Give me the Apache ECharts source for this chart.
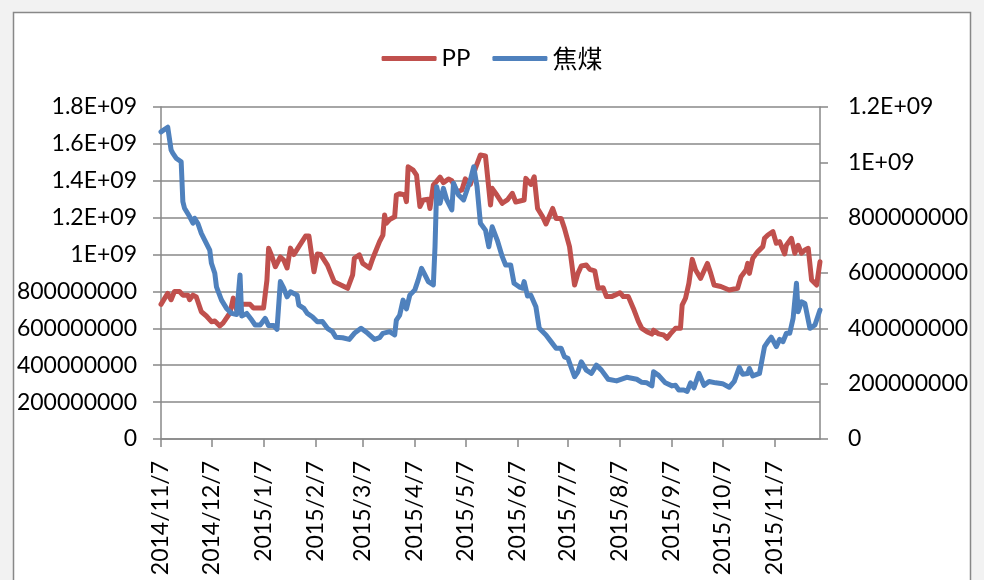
<!DOCTYPE html>
<html><head><meta charset="utf-8">
<script src="https://cdn.jsdelivr.net/npm/echarts@6/dist/echarts.min.js"></script>
<style>html,body{margin:0;padding:0;background:#fff}#c{width:984px;height:580px}</style>
</head><body><div id="c"></div>
<script>
const startDate = '2014/11/7';
const endDate = '2015/12/4';
const tickLabels = ['2014/11/7','2014/12/7','2015/1/7','2015/2/7','2015/3/7','2015/4/7','2015/5/7','2015/6/7','2015/7/7','2015/8/7','2015/9/7','2015/10/7','2015/11/7'];
const seriesNames = ['PP','焦煤'];

const ppDates = ['2014/11/7','2014/11/11','2014/11/13','2014/11/15','2014/11/18','2014/11/20','2014/11/23','2014/11/24','2014/11/26','2014/11/28',
'2014/12/1','2014/12/4','2014/12/7','2014/12/9','2014/12/12','2014/12/14','2014/12/18','2014/12/20','2014/12/22','2014/12/25','2014/12/30',
'2015/1/1','2015/1/7','2015/1/9','2015/1/10','2015/1/12','2015/1/14','2015/1/17','2015/1/19','2015/1/21','2015/1/23','2015/1/25','2015/1/28',
'2015/2/1','2015/2/3','2015/2/6','2015/2/8','2015/2/10','2015/2/14','2015/2/18','2015/2/26',
'2015/3/1','2015/3/2','2015/3/5','2015/3/7','2015/3/11','2015/3/13','2015/3/17','2015/3/19','2015/3/20','2015/3/21','2015/3/23','2015/3/26','2015/3/27','2015/3/29',
'2015/4/1','2015/4/2','2015/4/3','2015/4/6','2015/4/8','2015/4/10','2015/4/12','2015/4/15','2015/4/16','2015/4/18','2015/4/22','2015/4/24','2015/4/27','2015/4/29',
'2015/5/2','2015/5/5','2015/5/7','2015/5/10','2015/5/13','2015/5/16','2015/5/19','2015/5/20','2015/5/22','2015/5/23','2015/5/26','2015/5/27','2015/5/29',
'2015/6/1','2015/6/4','2015/6/6','2015/6/11','2015/6/12','2015/6/15','2015/6/17','2015/6/19','2015/6/22','2015/6/24','2015/6/28','2015/6/30',
'2015/7/3','2015/7/5','2015/7/8','2015/7/11','2015/7/13','2015/7/15','2015/7/18','2015/7/20','2015/7/23','2015/7/25','2015/7/28','2015/7/30',
'2015/8/2','2015/8/4','2015/8/7','2015/8/9','2015/8/12','2015/8/15','2015/8/18','2015/8/20','2015/8/23','2015/8/26','2015/8/27','2015/8/30',
'2015/9/2','2015/9/4','2015/9/6','2015/9/9','2015/9/12','2015/9/13','2015/9/15','2015/9/17','2015/9/19','2015/9/21','2015/9/24','2015/9/25','2015/9/28','2015/9/30',
'2015/10/2','2015/10/6','2015/10/11','2015/10/16','2015/10/18','2015/10/21','2015/10/22','2015/10/23','2015/10/25','2015/10/28','2015/10/31',
'2015/11/1','2015/11/3','2015/11/6','2015/11/8','2015/11/10','2015/11/13','2015/11/14','2015/11/17','2015/11/19','2015/11/21','2015/11/23','2015/11/25','2015/11/27','2015/11/29',
'2015/12/2','2015/12/4'];
const ppValues = [7.3e8,7.9e8,7.55e8,8.0e8,8.0e8,7.8e8,7.8e8,7.55e8,7.8e8,7.7e8,
6.9e8,6.67e8,6.36e8,6.4e8,6.13e8,6.3e8,6.83e8,7.64e8,7.0e8,7.3e8,7.3e8,
7.1e8,7.1e8,8.6e8,1.034e9,9.9e8,9.34e8,9.87e8,9.7e8,9.27e8,1.035e9,1.0e9,1.043e9,
1.1e9,1.1e9,9.07e8,1.003e9,1.0e9,9.43e8,8.53e8,8.17e8,
8.9e8,9.8e8,9.98e8,9.52e8,9.27e8,9.8e8,1.07e9,1.106e9,1.214e9,1.17e9,1.19e9,1.205e9,1.323e9,1.33e9,
1.323e9,1.287e9,1.476e9,1.458e9,1.431e9,1.26e9,1.296e9,1.3e9,1.25e9,1.377e9,1.42e9,1.39e9,1.41e9,1.4e9,
1.34e9,1.35e9,1.41e9,1.38e9,1.467e9,1.54e9,1.535e9,1.53e9,1.269e9,1.359e9,1.32e9,1.33e9,1.278e9,
1.296e9,1.332e9,1.285e9,1.296e9,1.413e9,1.38e9,1.422e9,1.25e9,1.205e9,1.166e9,1.25e9,1.196e9,
1.196e9,1.142e9,1.043e9,8.35e8,8.98e8,9.38e8,9.43e8,9.2e8,9.12e8,8.17e8,8.2e8,7.72e8,
7.72e8,7.8e8,7.93e8,7.72e8,7.72e8,7.08e8,6.36e8,6.0e8,5.82e8,5.69e8,5.9e8,5.7e8,
5.64e8,5.46e8,5.7e8,6.0e8,6.0e8,7.26e8,7.63e8,8.44e8,9.74e8,9.16e8,8.71e8,8.8e8,9.52e8,8.98e8,
8.35e8,8.27e8,8.08e8,8.17e8,8.8e8,9.16e8,9.52e8,8.98e8,9.8e8,1.016e9,1.043e9,
1.088e9,1.106e9,1.124e9,1.061e9,1.07e9,1.003e9,1.05e9,1.088e9,1.007e9,1.05e9,1.007e9,1.025e9,1.034e9,8.62e8,
8.35e8,9.61e8];

const cokeDates = ['2014/11/7','2014/11/11','2014/11/13','2014/11/14','2014/11/16','2014/11/19','2014/11/20','2014/11/21','2014/11/24','2014/11/26','2014/11/27','2014/11/29',
'2014/12/1','2014/12/3','2014/12/6','2014/12/7','2014/12/9','2014/12/10','2014/12/13','2014/12/16','2014/12/19','2014/12/22','2014/12/24','2014/12/25','2014/12/28','2014/12/31',
'2015/1/2','2015/1/5','2015/1/8','2015/1/10','2015/1/13','2015/1/15','2015/1/17','2015/1/19','2015/1/21','2015/1/23','2015/1/27','2015/1/28','2015/1/31',
'2015/2/2','2015/2/5','2015/2/8','2015/2/11','2015/2/14','2015/2/17','2015/2/19','2015/2/23','2015/2/27',
'2015/3/2','2015/3/6','2015/3/10','2015/3/14','2015/3/17','2015/3/19','2015/3/23','2015/3/26','2015/3/27','2015/3/29','2015/3/31',
'2015/4/2','2015/4/4','2015/4/7','2015/4/9','2015/4/11','2015/4/13','2015/4/15','2015/4/18','2015/4/19','2015/4/20','2015/4/22','2015/4/24','2015/4/26','2015/4/29','2015/4/30',
'2015/5/3','2015/5/6','2015/5/8','2015/5/10','2015/5/12','2015/5/14','2015/5/16','2015/5/19','2015/5/21','2015/5/23','2015/5/26','2015/5/29','2015/5/31',
'2015/6/3','2015/6/5','2015/6/8','2015/6/10','2015/6/11','2015/6/13','2015/6/15','2015/6/18','2015/6/20','2015/6/24','2015/6/27','2015/6/30',
'2015/7/3','2015/7/5','2015/7/7','2015/7/11','2015/7/13','2015/7/15','2015/7/18','2015/7/21','2015/7/24','2015/7/27','2015/7/31',
'2015/8/5','2015/8/11','2015/8/17','2015/8/20','2015/8/23','2015/8/26','2015/8/27','2015/8/30',
'2015/9/3','2015/9/7','2015/9/9','2015/9/11','2015/9/14','2015/9/16','2015/9/18','2015/9/20','2015/9/23','2015/9/26','2015/9/29',
'2015/10/3','2015/10/7','2015/10/11','2015/10/14','2015/10/17','2015/10/19','2015/10/22','2015/10/23','2015/10/25','2015/10/29',
'2015/11/1','2015/11/3','2015/11/5','2015/11/8','2015/11/10','2015/11/12','2015/11/14','2015/11/16','2015/11/18','2015/11/20','2015/11/21','2015/11/23','2015/11/25','2015/11/28',
'2015/12/1','2015/12/4'];
const cokeValues = [1.11e9,1.127e9,1.045e9,1.033e9,1.015e9,1.002e9,8.58e8,8.34e8,8.04e8,7.8e8,7.98e8,7.78e8,
7.43e8,7.19e8,6.83e8,6.35e8,5.99e8,5.5e8,5.02e8,4.72e8,4.54e8,4.5e8,5.93e8,4.45e8,4.54e8,4.3e8,
4.12e8,4.12e8,4.36e8,4.1e8,4.1e8,3.96e8,5.69e8,5.45e8,5.14e8,5.32e8,5.2e8,4.84e8,4.72e8,
4.54e8,4.42e8,4.24e8,4.25e8,4.0e8,3.88e8,3.68e8,3.66e8,3.6e8,
3.82e8,4.0e8,3.82e8,3.6e8,3.66e8,3.82e8,3.88e8,3.76e8,4.3e8,4.48e8,5.02e8,
4.7e8,5.2e8,5.39e8,5.75e8,6.17e8,5.93e8,5.69e8,5.57e8,6.95e8,9.12e8,8.52e8,9.06e8,8.64e8,8.28e8,9.24e8,
8.82e8,8.64e8,9.0e8,9.36e8,9.84e8,9.12e8,7.8e8,7.55e8,6.95e8,7.67e8,7.19e8,6.59e8,6.29e8,
6.29e8,5.63e8,5.5e8,5.45e8,5.69e8,5.17e8,5.2e8,4.78e8,4.0e8,3.76e8,3.52e8,3.28e8,
3.28e8,2.97e8,2.92e8,2.25e8,2.43e8,2.79e8,2.49e8,2.37e8,2.67e8,2.49e8,2.16e8,
2.1e8,2.23e8,2.16e8,2.05e8,2.03e8,1.92e8,2.43e8,2.3e8,
2.03e8,1.92e8,1.94e8,1.77e8,1.77e8,1.72e8,2.03e8,1.85e8,2.37e8,1.94e8,2.08e8,
2.03e8,2.0e8,1.87e8,2.08e8,2.59e8,2.34e8,2.37e8,2.55e8,2.28e8,2.37e8,
3.34e8,3.52e8,3.68e8,3.34e8,3.6e8,3.52e8,3.82e8,3.82e8,4.36e8,5.63e8,4.6e8,4.96e8,4.9e8,4.0e8,
4.12e8,4.66e8];

// calendar-day categories for the date axis
function parseD(s){const p=s.split('/').map(Number);return new Date(p[0],p[1]-1,p[2]);}
function fmtD(d){return d.getFullYear()+'/'+(d.getMonth()+1)+'/'+d.getDate();}
const categories=[];
for(let d=parseD(startDate), e=parseD(endDate); d<=e; d.setDate(d.getDate()+1)) categories.push(fmtD(d));
const catIndex={}; categories.forEach((c,i)=>catIndex[c]=i);
const pairs=(ds,vs)=>ds.map((d,i)=>[catIndex[d],vs[i]]);

const FONT='Lato';
const fmtNum=v=> v>=1e9 ? parseFloat((v/1e9).toFixed(1))+'E+09' : String(v);
const isTick=(i,val)=>tickLabels.indexOf(val)>=0;
const gray='#888888';

const chart=echarts.init(document.getElementById('c'),null,{renderer:'canvas'});
chart.setOption({
  animation:false,
  backgroundColor:'#f2f2f2',
  textStyle:{fontFamily:FONT},
  graphic:[{type:'rect',z:-10,shape:{x:13.5,y:12.5,width:957,height:620},style:{fill:'#fff',stroke:gray,lineWidth:1.5},silent:true}],
  legend:{top:41,left:'center',icon:'roundRect',itemWidth:55,itemHeight:5,itemGap:22,
    textStyle:{fontFamily:FONT,fontSize:24,color:'#000',
      rich:{cjk:{fontFamily:'Noto Sans CJK SC',fontSize:25,color:'#000'}}},
    formatter:n=>/[^\x00-\x7f]/.test(n)?'{cjk|'+n+'}':n,
    data:seriesNames},
  grid:{left:161,right:164,top:107,bottom:141,containLabel:false},
  xAxis:{type:'category',data:categories,boundaryGap:false,
    axisLine:{lineStyle:{color:gray,width:1.5}},
    axisTick:{show:true,interval:isTick,length:8,lineStyle:{color:gray,width:1.5}},
    axisLabel:{interval:isTick,rotate:90,margin:22,fontFamily:FONT,fontSize:23,color:'#000'},
    splitLine:{show:false}},
  yAxis:[
    {type:'value',min:0,max:1.8e9,interval:2e8,position:'left',
     axisLine:{show:true,lineStyle:{color:gray,width:1.5}},
     axisTick:{show:true,length:8,lineStyle:{color:gray,width:1.5}},
     axisLabel:{formatter:fmtNum,margin:24,fontFamily:FONT,fontSize:23,color:'#000'},
     splitLine:{show:true,lineStyle:{color:gray,width:1.5}}},
    {type:'value',min:0,max:1.2e9,interval:2e8,position:'right',
     axisLine:{show:true,lineStyle:{color:gray,width:1.5}},
     axisTick:{show:true,length:8,lineStyle:{color:gray,width:1.5}},
     axisLabel:{formatter:fmtNum,margin:28,fontFamily:FONT,fontSize:23,color:'#000'},
     splitLine:{show:false}}
  ],
  series:[
    {name:seriesNames[0],type:'line',yAxisIndex:0,data:pairs(ppDates,ppValues),symbol:'none',
     lineStyle:{color:'#C0504D',width:5,cap:'round',join:'round'},itemStyle:{color:'#C0504D'}},
    {name:seriesNames[1],type:'line',yAxisIndex:1,data:pairs(cokeDates,cokeValues),symbol:'none',
     lineStyle:{color:'#4F81BD',width:5,cap:'round',join:'round'},itemStyle:{color:'#4F81BD'}}
  ]
});
</script></body></html>
